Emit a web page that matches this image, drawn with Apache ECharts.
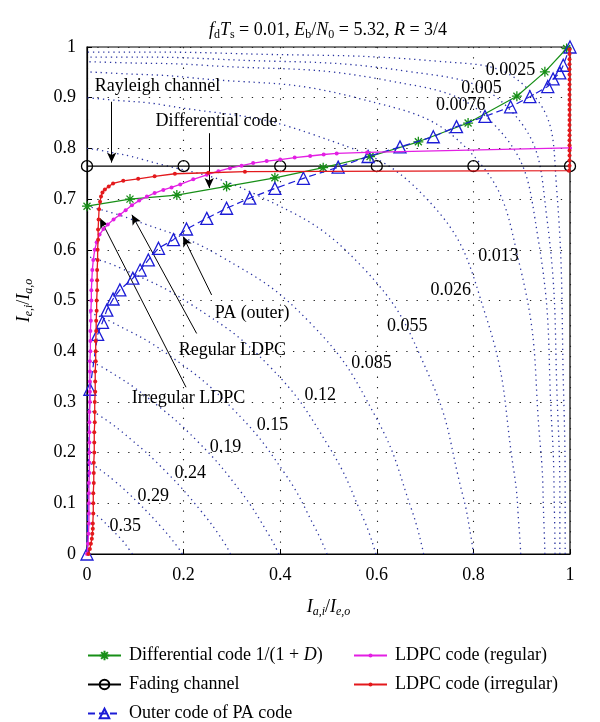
<!DOCTYPE html>
<html><head><meta charset="utf-8">
<script src="https://cdn.jsdelivr.net/npm/echarts@6/dist/echarts.min.js"></script>
<style>html,body{margin:0;padding:0;background:#fff}#c{width:600px;height:722px}</style>
</head><body><div id="c"></div>
<script>
// ---------- data ----------
const xTicks = [0, 0.2, 0.4, 0.6, 0.8, 1];
const yTicks = [0, 0.1, 0.2, 0.3, 0.4, 0.5, 0.6, 0.7, 0.8, 0.9, 1];

const diffCode = [[0,0.686],[0.089,0.700],[0.186,0.708],[0.289,0.725],[0.389,0.742],[0.489,0.762],[0.586,0.784],[0.686,0.813],[0.789,0.850],[0.890,0.903],[0.948,0.951],[0.993,0.997]];
const fadingChannel = [[0,0.765],[0.2,0.765],[0.4,0.765],[0.6,0.765],[0.8,0.765],[1,0.765]];
const paOuter = [[0,0],[0.006,0.325],[0.022,0.433],[0.032,0.457],[0.041,0.481],[0.054,0.503],[0.068,0.521],[0.095,0.544],[0.110,0.560],[0.127,0.580],[0.148,0.603],[0.179,0.620],[0.206,0.641],[0.248,0.662],[0.289,0.682],[0.337,0.702],[0.389,0.721],[0.448,0.741],[0.520,0.763],[0.582,0.784],[0.648,0.803],[0.717,0.823],[0.765,0.843],[0.824,0.863],[0.877,0.882],[0.917,0.902],[0.954,0.922],[0.965,0.937],[0.979,0.949],[0.986,0.964],[1,1]];
const ldpcRegular = [[0,0],[0.002,0.02],[0.003,0.04],[0.004,0.06],[0.004,0.08],[0.004,0.10],[0.004,0.12],[0.004,0.14],[0.005,0.16],[0.005,0.18],[0.005,0.20],[0.005,0.22],[0.005,0.24],[0.005,0.26],[0.005,0.28],[0.006,0.30],[0.006,0.32],[0.006,0.34],[0.006,0.36],[0.006,0.38],[0.007,0.40],[0.007,0.42],[0.007,0.44],[0.008,0.46],[0.008,0.48],[0.009,0.50],[0.009,0.52],[0.010,0.54],[0.011,0.56],[0.013,0.58],[0.016,0.60],[0.020,0.615],[0.026,0.630],[0.034,0.641],[0.043,0.650],[0.055,0.660],[0.068,0.669],[0.080,0.678],[0.093,0.688],[0.108,0.697],[0.124,0.705],[0.140,0.712],[0.158,0.718],[0.175,0.723],[0.193,0.729],[0.220,0.739],[0.248,0.748],[0.272,0.755],[0.296,0.761],[0.320,0.766],[0.344,0.771],[0.372,0.775],[0.400,0.778],[0.430,0.782],[0.462,0.785],[0.490,0.788],[0.517,0.790],[0.580,0.792],[1,0.801]];
const ldpcIrregular = [[0.003,0],[0.006,0.01],[0.008,0.02],[0.010,0.03],[0.011,0.04],[0.012,0.05],[0.012,0.06],[0.013,0.08],[0.013,0.10],[0.013,0.12],[0.014,0.14],[0.014,0.16],[0.014,0.18],[0.015,0.20],[0.015,0.22],[0.015,0.24],[0.016,0.26],[0.016,0.28],[0.016,0.30],[0.017,0.32],[0.017,0.34],[0.017,0.36],[0.018,0.38],[0.018,0.40],[0.018,0.42],[0.019,0.44],[0.019,0.46],[0.020,0.48],[0.020,0.50],[0.021,0.52],[0.021,0.54],[0.021,0.56],[0.022,0.58],[0.022,0.60],[0.023,0.62],[0.023,0.64],[0.024,0.66],[0.025,0.68],[0.027,0.695],[0.029,0.705],[0.032,0.713],[0.037,0.719],[0.045,0.725],[0.054,0.731],[0.075,0.736],[0.106,0.740],[0.140,0.745],[0.182,0.750],[0.251,0.752],[0.327,0.754],[0.998,0.756],[0.999,0.766],[0.999,0.776],[0.999,0.786],[0.999,0.796],[0.999,0.806],[0.999,0.816],[0.999,0.826],[0.999,0.836],[0.999,0.846],[0.999,0.856],[0.999,0.866],[0.999,0.876],[0.999,0.886],[0.999,0.896],[0.999,0.906],[0.999,0.916],[0.999,0.926],[0.999,0.936],[0.999,0.946],[0.999,0.956],[0.999,0.966],[0.999,0.976],[0.999,0.986],[0.999,0.995]];

// BER contour lines (dotted), labels in contourNames
const contourNames = ['0.35','0.29','0.24','0.19','0.15','0.12','0.085','0.055','0.026','0.013','0.0076','0.005','0.0025'];
const ber035 = [[0.094,0],[0.088,0.008],[0.073,0.027],[0.050,0.049],[0.027,0.071],[0.008,0.083],[0,0.085]];
const ber029 = [[0.197,0],[0.186,0.016],[0.153,0.054],[0.107,0.100],[0.057,0.144],[0.017,0.173],[0,0.182]];
const ber024 = [[0.297,0],[0.281,0.027],[0.235,0.086],[0.166,0.160],[0.090,0.227],[0.028,0.272],[0,0.286]];
const ber019 = [[0.397,0],[0.377,0.037],[0.319,0.122],[0.229,0.222],[0.126,0.308],[0.038,0.365],[0,0.382]];
const ber015 = [[0.497,0],[0.474,0.048],[0.408,0.161],[0.299,0.289],[0.167,0.394],[0.050,0.458],[0,0.478]];
const ber012 = [[0.598,0],[0.574,0.066],[0.500,0.213],[0.377,0.371],[0.216,0.492],[0.067,0.565],[0,0.587]];
const ber0085 = [[0.697,0],[0.673,0.085],[0.598,0.270],[0.463,0.455],[0.275,0.588],[0.087,0.662],[0,0.686]];
const ber0055 = [[0.800,0],[0.795,0.034],[0.778,0.116],[0.708,0.352],[0.568,0.568],[0.352,0.708],[0.116,0.778],[0.034,0.795],[0,0.800]];
const ber0026 = [[0.898,0],[0.895,0.046],[0.884,0.162],[0.827,0.466],[0.702,0.702],[0.466,0.828],[0.162,0.885],[0.046,0.896],[0,0.900]];
const ber0013 = [[0.948,0],[0.946,0.062],[0.939,0.209],[0.898,0.561],[0.793,0.793],[0.561,0.899],[0.209,0.940],[0.062,0.948],[0,0.951]];
const ber00076 = [[0.969,0],[0.968,0.073],[0.963,0.242],[0.934,0.622],[0.845,0.845],[0.622,0.934],[0.242,0.964],[0.073,0.969],[0,0.971]];
const ber0005 = [[0.979,0],[0.979,0.081],[0.975,0.269],[0.952,0.664],[0.876,0.876],[0.664,0.952],[0.269,0.976],[0.081,0.980],[0,0.980]];
const ber00025 = [[0.990,0],[0.990,0.094],[0.987,0.309],[0.972,0.725],[0.915,0.915],[0.725,0.972],[0.309,0.987],[0.094,0.990],[0,0.990]];
const contours = [ber035, ber029, ber024, ber019, ber015, ber012, ber0085, ber0055, ber0026, ber0013, ber00076, ber0005, ber00025];

// ---------- annotation placement (data coords) ----------
const contourLabelAt = [[0.079,0.054],[0.137,0.113],[0.214,0.159],[0.287,0.21],[0.384,0.254],[0.483,0.314],[0.589,0.377],[0.663,0.45],[0.753,0.521],[0.852,0.588],[0.774,0.886],[0.817,0.918],[0.877,0.955]];
const textNotes = [
  {name:'Rayleigh channel', at:[0.146,0.923]},
  {name:'Differential code', at:[0.268,0.853]},
  {name:'PA (outer)', at:[0.342,0.475]},
  {name:'Regular LDPC', at:[0.301,0.402]},
  {name:'Irregular LDPC', at:[0.21,0.307]}
];
const arrows = [
  [[0.051,0.892],[0.051,0.772]],
  [[0.253,0.830],[0.253,0.722]],
  [[0.258,0.511],[0.199,0.626]],
  [[0.227,0.435],[0.093,0.669]],
  [[0.205,0.329],[0.027,0.662]]
];

const FONT = 'Liberation Serif';
const asterisk = 'path://M0,-5L0,5M-5,0L5,0M-3.5,-3.5L3.5,3.5M-3.5,3.5L3.5,-3.5';
const GREEN = '#178f17', BLUE = '#1c1cd6', MAG = '#e31fe3', RED = '#e3191c', CBLUE = '#2a34a0';

const series = [];
contours.forEach((c, i) => {
  series.push({
    name: 'ber' + contourNames[i], type: 'line', data: c, smooth: 0.45, symbol: 'none',
    lineStyle: {color: CBLUE, width: 1.3, type: [1.3, 3.8]}, z: 1, silent: true
  });
});
series.push({
  name: 'Differential code 1/(1 + D)', type: 'line', data: diffCode, clip: false,
  symbol: asterisk, symbolSize: 10, color: GREEN,
  lineStyle: {color: GREEN, width: 1.2},
  itemStyle: {color: GREEN, borderColor: GREEN, borderWidth: 1.3}, z: 5
});
series.push({
  name: 'Fading channel', type: 'line', data: fadingChannel, clip: false,
  symbol: 'circle', symbolSize: 11, color: '#000',
  lineStyle: {color: '#000', width: 1.3},
  itemStyle: {color: 'rgba(0,0,0,0)', borderColor: '#000', borderWidth: 1.3}, z: 4,
  markLine: {
    silent: true, animation: false, symbol: ['none', 'arrow'], symbolSize: [7, 10],
    lineStyle: {color: '#000', width: 1, type: 'solid'}, label: {show: false},
    data: arrows.map(a => [{coord: a[0]}, {coord: a[1]}])
  },
  markPoint: {
    silent: true, animation: false, symbol: 'circle', symbolSize: 1,
    itemStyle: {color: 'rgba(0,0,0,0)'},
    label: {show: true, position: 'inside', formatter: '{b}', color: '#000', fontFamily: FONT, fontSize: 18},
    data: contourNames.map((n, i) => ({name: n, coord: contourLabelAt[i]}))
      .concat(textNotes.map(t => ({name: t.name, coord: t.at})))
  }
});
series.push({
  name: 'Outer code of PA code', type: 'line', data: paOuter, clip: false,
  symbol: 'triangle', symbolSize: 12, color: BLUE,
  lineStyle: {color: BLUE, width: 1.2, type: [7, 4]},
  itemStyle: {color: 'rgba(0,0,0,0)', borderColor: BLUE, borderWidth: 1.3}, z: 6
});
series.push({
  name: 'LDPC code (regular)', type: 'line', data: ldpcRegular, clip: false,
  symbol: 'circle', symbolSize: 4, color: MAG,
  lineStyle: {color: MAG, width: 1.3},
  itemStyle: {color: MAG}, z: 7
});
series.push({
  name: 'LDPC code (irregular)', type: 'line', data: ldpcIrregular, clip: false,
  symbol: 'circle', symbolSize: 4, color: RED,
  lineStyle: {color: RED, width: 1.3},
  itemStyle: {color: RED}, z: 8
});

const sub = {fontFamily: FONT, fontSize: 12, lineHeight: 12, verticalAlign: 'bottom', color: '#000', fontWeight: 'normal'};
const it = {fontFamily: FONT, fontSize: 18, fontStyle: 'italic', lineHeight: 22, color: '#000', fontWeight: 'normal'};
const nm = {fontFamily: FONT, fontSize: 18, lineHeight: 22, color: '#000', fontWeight: 'normal'};
const subI = Object.assign({}, sub, {fontStyle: 'italic'});

const legendText = {
  fontFamily: FONT, fontSize: 18, color: '#000', lineHeight: 21,
  rich: {
    n: {fontFamily: FONT, fontSize: 18, lineHeight: 21, color: '#000'},
    p: {fontFamily: FONT, fontSize: 18, lineHeight: 21, color: '#000', padding: [0, 0, 0, 3]},
    i: {fontFamily: FONT, fontSize: 18, lineHeight: 21, fontStyle: 'italic', color: '#000'}
  }
};
function legendFmt(name) {
  if (name === 'Differential code 1/(1 + D)') return '{p|Differential code 1/(1 + }{i|D}{n|)}';
  return '{p|' + name + '}';
}

const option = {
  animation: false,
  backgroundColor: '#fff',
  textStyle: {fontFamily: FONT},
  title: {
    text: '{i|f}{s|d}{i|T}{s|s}{n| = 0.01, }{i|E}{s|b}{n|/}{i|N}{s|0}{n| = 5.32, }{i|R}{n| = 3/4}',
    left: 328, top: 19, textAlign: 'center', padding: 0,
    textStyle: {fontWeight: 'normal', rich: {i: it, n: nm, s: sub}}
  },
  grid: {left: 87, right: 30, top: 47, bottom: 168, show: true, borderColor: '#000', borderWidth: 1.2, backgroundColor: 'rgba(0,0,0,0)'},
  xAxis: {
    type: 'value', min: xTicks[0], max: xTicks[xTicks.length - 1], interval: 0.2,
    name: '{i|I}{s|a,i}{n|/}{i|I}{s|e,o}', nameLocation: 'middle', nameGap: 42,
    nameTextStyle: {rich: {i: it, n: nm, s: subI}},
    axisLine: {lineStyle: {color: '#000', width: 1.2}},
    axisTick: {inside: true, length: 5, lineStyle: {color: '#000'}},
    axisLabel: {color: '#000', fontSize: 18, fontFamily: FONT, margin: 12},
    splitLine: {show: true, lineStyle: {color: '#222', width: 1.1, type: [1.3, 9]}}
  },
  yAxis: {
    type: 'value', min: yTicks[0], max: yTicks[yTicks.length - 1], interval: 0.1,
    name: '{i|I}{s|e,i}{n|/}{i|I}{s|a,o}', nameLocation: 'middle', nameGap: 52, nameRotate: 90,
    nameTextStyle: {rich: {i: it, n: nm, s: subI}},
    axisLine: {lineStyle: {color: '#000', width: 1.2}},
    axisTick: {inside: true, length: 5, lineStyle: {color: '#000'}},
    axisLabel: {color: '#000', fontSize: 18, fontFamily: FONT, margin: 11},
    splitLine: {show: true, lineStyle: {color: '#222', width: 1.1, type: [1.3, 9]}}
  },
  legend: [
    {
      left: 87, top: 645, height: 90, padding: 0, orient: 'vertical', itemGap: 8, itemWidth: 33, itemHeight: 12,
      selectedMode: false, textStyle: legendText, formatter: legendFmt,
      data: ['Differential code 1/(1 + D)', 'Fading channel', 'Outer code of PA code']
    },
    {
      left: 353, top: 645, height: 90, padding: 0, orient: 'vertical', itemGap: 8, itemWidth: 33, itemHeight: 5,
      selectedMode: false, textStyle: legendText, formatter: legendFmt,
      data: ['LDPC code (regular)', 'LDPC code (irregular)']
    }
  ],
  series: series
};

const chart = echarts.init(document.getElementById('c'), null, {renderer: 'canvas'});
chart.setOption(option);
</script>
</body></html>
